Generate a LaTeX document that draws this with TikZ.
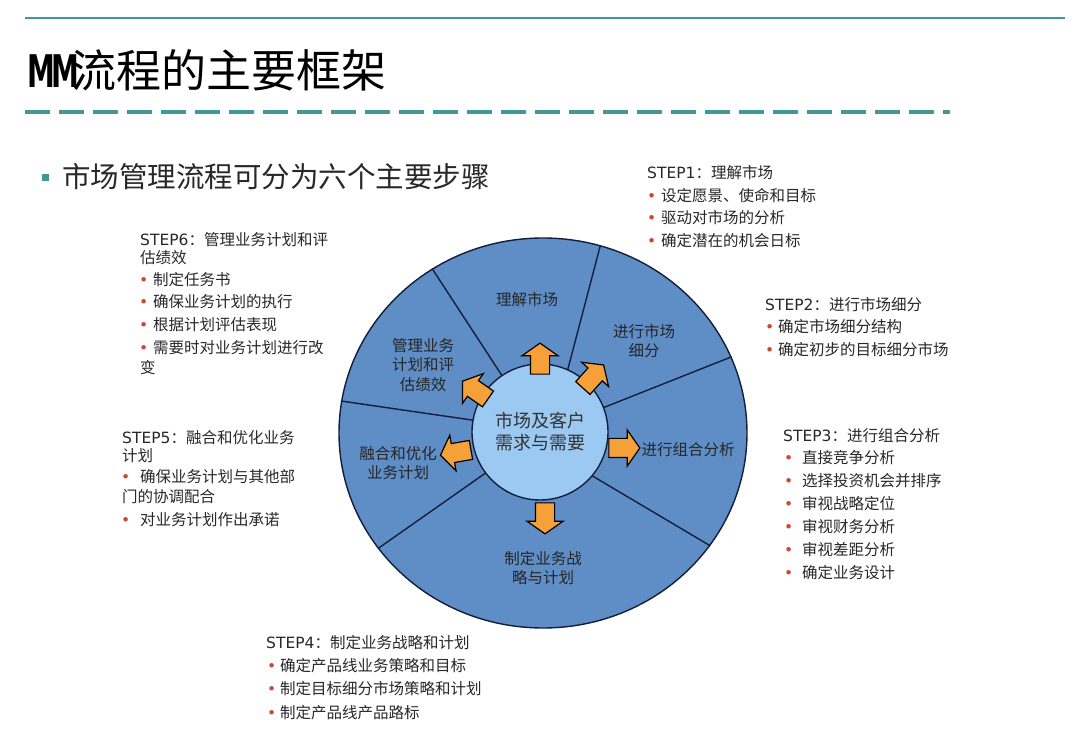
\documentclass[tikz,border=0pt]{standalone}
\usepackage{fontspec}
\setmainfont{Noto Sans CJK SC}
\newfontfamily\lat{DejaVu Sans}
\newfontfamily\heavy{DejaVu Sans Bold}
\usetikzlibrary{shapes.geometric,shapes.arrows}
\definecolor{teal1}{RGB}{64,152,152}
\definecolor{segblue}{RGB}{95,141,197}
\definecolor{innerblue}{RGB}{155,201,242}
\definecolor{arroworange}{RGB}{246,160,58}
\definecolor{bulred}{RGB}{205,70,50}
\definecolor{txtgray}{RGB}{40,40,40}
\definecolor{lineblue}{RGB}{20,30,60}
\newcommand\bl[1]{\makebox[#1][l]{\textcolor{bulred}{\lat\char"2022}}}
\begin{document}
\begin{tikzpicture}[x=1pt,y=1pt,
  steptxt/.style={anchor=base west, inner sep=0pt, text=txtgray, font=\fontsize{15.5}{18}\selectfont},
  seglabel/.style={align=center, inner sep=0pt, text=black!85, font=\fontsize{15.5}{19.5}\selectfont},
  blockarrow/.style={single arrow, draw=black, line width=1.2pt, fill=arroworange, inner sep=9pt,
    minimum height=31pt, single arrow head extend=8.5pt, single arrow tip angle=110, single arrow head indent=0pt},
  divider/.style={draw=lineblue, line width=1.4pt},
]
\useasboundingbox (0,0) rectangle (1080,745);
\fill[white] (0,0) rectangle (1080,745);

% header lines
\coordinate (tl1) at (25,727);
\coordinate (tl2) at (1065,727);
\draw[teal1, line width=2pt] (tl1) -- (tl2);
\coordinate (dl1) at (25,633);
\coordinate (dl2) at (950,633);
\draw[teal1, line width=3.5pt, dash pattern=on 25pt off 9pt] (dl1) -- (dl2);

% title
\node[anchor=base west, inner sep=0pt, font=\fontsize{45}{48}\selectfont] (title) at (27,657)
  {\scalebox{0.62}[1]{\heavy M\kern-5pt M}\kern-8pt 流程的主要框架};

% subtitle
\node[fill=teal1, minimum size=7pt, inner sep=0pt] (sq) at (45,567) {};
\node[anchor=base west, inner sep=0pt, text=txtgray, font=\fontsize{28.5}{32}\selectfont] (sub) at (62,557)
  {市场管理流程可分为六个主要步骤};

% wheel
\node[ellipse, draw=lineblue, line width=1.4pt, fill=segblue, minimum width=408pt, minimum height=390pt, inner sep=0pt] (outer) at (543,312) {};
\node[circle, inner sep=0pt, minimum size=136pt] (innerpos) at (540,313) {};
\draw[divider] (innerpos.124) -- (outer.124);
\draw[divider] (innerpos.66) -- (outer.73);
\draw[divider] (innerpos.21) -- (outer.22);
\draw[divider] (innerpos.-40) -- (outer.-34);
\draw[divider] (innerpos.217) -- (outer.215);
\draw[divider] (innerpos.170) -- (outer.171);
\node[circle, draw=lineblue, line width=1.4pt, fill=innerblue, inner sep=0pt, minimum size=136pt,
  align=center, text=black!80, font=\fontsize{18}{22}\selectfont] (inner) at (540,313) {市场及客户\\需求与需要};

% arrows
\node[blockarrow, rotate=90] (a1) at (540,383) {};
\node[blockarrow, rotate=48] (a2) at (591,366) {};
\node[blockarrow, rotate=0] (a3) at (621,297) {};
\node[blockarrow, rotate=-90] (a4) at (545,230) {};
\node[blockarrow, rotate=190] (a5) at (459,293) {};
\node[blockarrow, rotate=145] (a6) at (478,353) {};

% segment labels
\node[seglabel] (g1) at (527,445) {理解市场};
\node[seglabel] (g2) at (644,404) {进行市场\\细分};
\node[seglabel] (g3) at (688,295) {进行组合分析};
\node[seglabel] (g4) at (543,177) {制定业务战\\略与计划};
\node[seglabel] (g5) at (398,282) {融合和优化\\业务计划};
\node[seglabel] (g6) at (423,380) {管理业务\\计划和评\\估绩效};

% STEP1
\node[steptxt] (s1t) at (647,566) {{\lat STEP1}：理解市场};
\node[steptxt] (s1a) at (647,543) {\bl{14pt}设定愿景、使命和目标};
\node[steptxt] (s1b) at (647,521) {\bl{14pt}驱动对市场的分析};
\node[steptxt] (s1c) at (647,498) {\bl{14pt}确定潜在的机会日标};

% STEP2
\node[steptxt] (s2t) at (765,434) {{\lat STEP2}：进行市场细分};
\node[steptxt] (s2a) at (765,412) {\bl{13pt}确定市场细分结构};
\node[steptxt] (s2b) at (765,389) {\bl{13pt}确定初步的目标细分市场};

% STEP3
\node[steptxt] (s3t) at (783,303) {{\lat STEP3}：进行组合分析};
\node[steptxt] (s3a) at (784,281) {\bl{18pt}直接竞争分析};
\node[steptxt] (s3b) at (784,258) {\bl{18pt}选择投资机会并排序};
\node[steptxt] (s3c) at (784,235) {\bl{18pt}审视战略定位};
\node[steptxt] (s3d) at (784,212) {\bl{18pt}审视财务分析};
\node[steptxt] (s3e) at (784,189) {\bl{18pt}审视差距分析};
\node[steptxt] (s3f) at (784,166) {\bl{18pt}确定业务设计};

% STEP4
\node[steptxt] (s4t) at (266,96) {{\lat STEP4}：制定业务战略和计划};
\node[steptxt] (s4a) at (267,73) {\bl{13pt}确定产品线业务策略和目标};
\node[steptxt] (s4b) at (267,50) {\bl{13pt}制定目标细分市场策略和计划};
\node[steptxt] (s4c) at (267,27) {\bl{13pt}制定产品线产品路标};

% STEP5
\node[steptxt] (s5t) at (122,301) {{\lat STEP5}：融合和优化业务};
\node[steptxt] (s5u) at (122,283) {计划};
\node[steptxt] (s5a) at (121,262) {\bl{19pt}确保业务计划与其他部};
\node[steptxt] (s5b) at (122,242) {门的协调配合};
\node[steptxt] (s5c) at (121,219) {\bl{19pt}对业务计划作出承诺};

% STEP6
\node[steptxt] (s6t) at (140,499) {{\lat STEP6}：管理业务计划和评};
\node[steptxt] (s6u) at (140,481) {估绩效};
\node[steptxt] (s6a) at (139,459) {\bl{14pt}制定任务书};
\node[steptxt] (s6b) at (139,437) {\bl{14pt}确保业务计划的执行};
\node[steptxt] (s6c) at (139,414) {\bl{14pt}根据计划评估表现};
\node[steptxt] (s6d) at (139,391) {\bl{14pt}需要时对业务计划进行改};
\node[steptxt] (s6e) at (140,371) {变};
\end{tikzpicture}
\end{document}
